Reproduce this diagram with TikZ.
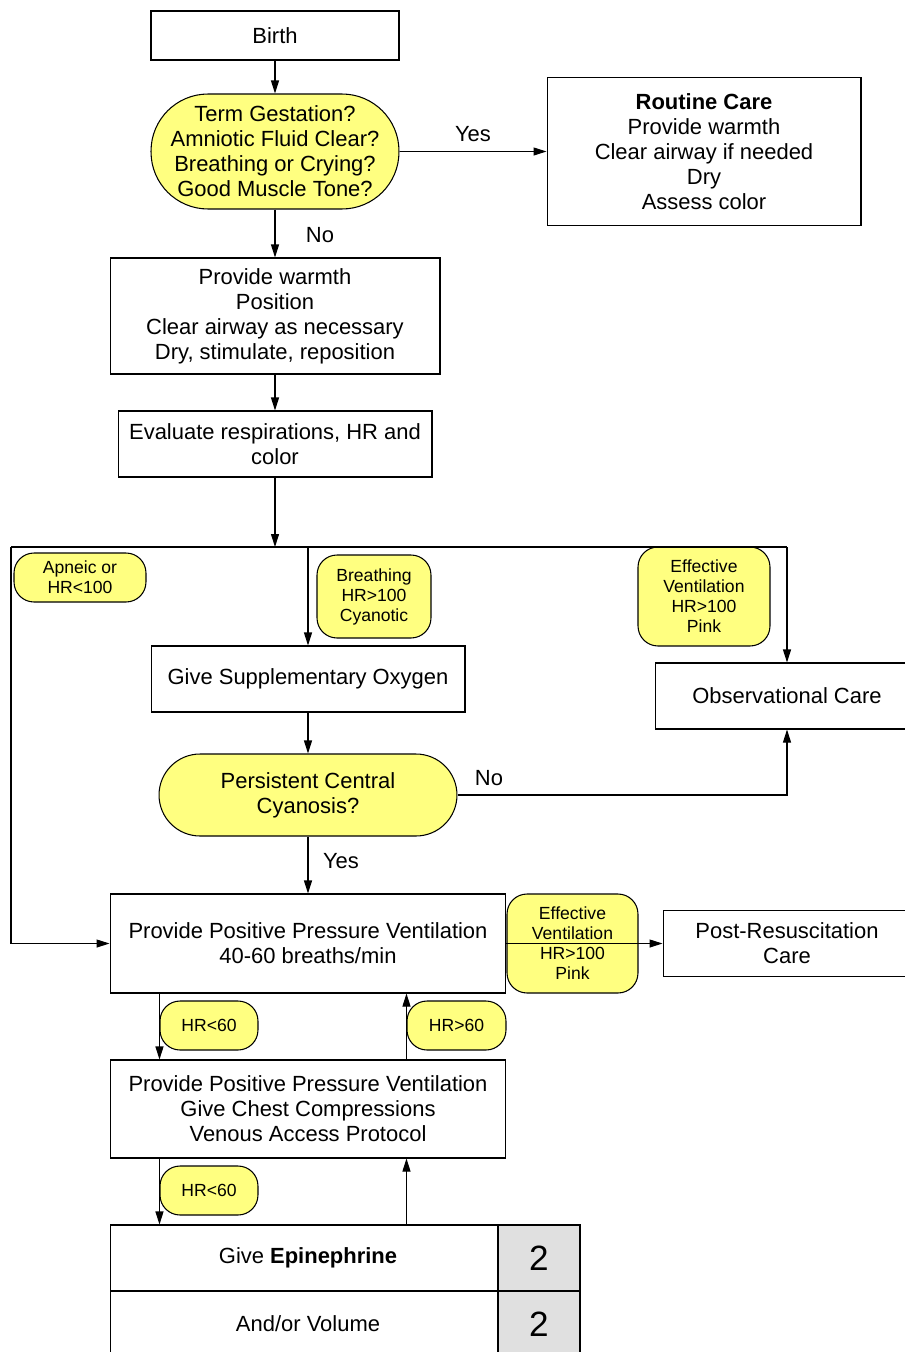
\documentclass[tikz,border=0pt]{standalone}
\usepackage{fontspec}
\setmainfont{Liberation Sans}
\usetikzlibrary{arrows.meta}
\definecolor{labelyellow}{RGB}{255,255,128}
\definecolor{cellgray}{RGB}{224,224,224}
\tikzset{
  box/.style={
    shape = rectangle,
    draw,
    line width = 0.6pt,
    align = center,
    inner sep = 0pt,
    font = \fontsize{12.5}{14.2}\selectfont
  },
}
\tikzset{
  decision/.style={
    shape = rectangle,
    draw,
    fill = labelyellow,
    line width = 0.6pt,
    align = center,
    inner sep = 0pt,
    font = \fontsize{12.5}{14.2}\selectfont
  },
}
\tikzset{
  cond/.style={
    shape = rectangle,
    rounded corners = 0.4cm,
    draw,
    fill = labelyellow,
    line width = 0.6pt,
    align = center,
    inner sep = 0pt,
    font = \fontsize{10}{11.4}\selectfont
  },
  answer/.style={
    inner sep = 0pt,
    font = \fontsize{12.5}{14.2}\selectfont
  },
  flow/.style={
    -{Triangle[length=0.26cm,width=0.16cm]},
    line width = 0.6pt
  }
}

\begin{document}
\begin{tikzpicture}[x=0.02cm,y=-0.02cm]
        \useasboundingbox (0,0) rectangle (904,1352);

        \node[box, minimum width=4.96cm, minimum height=0.98cm] (birth) at (275,35.5) {Birth};
        \node[decision, rounded corners=1.14cm, minimum width=4.96cm, minimum height=2.3cm] (term) at (275,151.5)
            {Term Gestation?\\Amniotic Fluid Clear?\\Breathing or Crying?\\Good Muscle Tone?};
        \node[box, minimum width=6.28cm, minimum height=2.96cm] (routine) at (704,151.5)
            {\textbf{Routine Care}\\Provide warmth\\Clear airway if needed\\Dry\\Assess color};
        \node[box, minimum width=6.6cm, minimum height=2.32cm] (warmth) at (275,316)
            {Provide warmth\\Position\\Clear airway as necessary\\Dry, stimulate, reposition};
        \node[box, minimum width=6.28cm, minimum height=1.32cm] (evaluate) at (275,444)
            {Evaluate respirations, HR and\\color};

        \node[answer] (yesroutine) at (473,134) {Yes};
        \node[answer] (noterm) at (320,235) {No};

        \coordinate (split) at (275,547);
        \coordinate (splitL) at (11,547);
        \coordinate (splitR) at (787,547);

        \node[box, minimum width=6.28cm, minimum height=1.32cm] (oxygen) at (308,679) {Give Supplementary Oxygen};
        \node[box, minimum width=5.28cm, minimum height=1.32cm] (observ) at (787,696) {Observational Care};
        \node[decision, rounded corners=0.82cm, minimum width=5.96cm, minimum height=1.64cm] (persist) at (308,795)
            {Persistent Central\\Cyanosis?};
        \node[answer] (nopersist) at (489,778) {No};
        \node[answer] (yespersist) at (341,861) {Yes};

        \node[box, minimum width=7.92cm, minimum height=1.98cm] (ppv) at (308,943.5)
            {Provide Positive Pressure Ventilation\\40-60 breaths/min};
        \node[box, minimum width=4.96cm, minimum height=1.32cm] (post) at (787,943.5)
            {Post-Resuscitation\\Care};
        \node[box, minimum width=7.92cm, minimum height=1.96cm] (cpr) at (308,1109)
            {Provide Positive Pressure Ventilation\\Give Chest Compressions\\Venous Access Protocol};

        \node[box, minimum width=7.76cm, minimum height=1.32cm] (epi) at (304,1258) {\hspace{0.16cm}Give \textbf{Epinephrine}};
        \node[box, fill=cellgray, minimum width=1.64cm, minimum height=1.32cm, font=\fontsize{20}{24}\selectfont] (epicount) at (539,1258) {2};
        \node[box, minimum width=7.76cm, minimum height=1.32cm] (volume) at (304,1324) {\hspace{0.16cm}And/or Volume};
        \node[box, fill=cellgray, minimum width=1.64cm, minimum height=1.32cm, font=\fontsize{20}{24}\selectfont] (volcount) at (539,1324) {2};

        \node[cond, minimum width=2.64cm, minimum height=0.98cm] (apneic) at (80,577.5) {Apneic or\\HR<100};
        \node[cond, minimum width=2.28cm, minimum height=1.66cm] (breathing) at (374,596.5) {Breathing\\HR>100\\Cyanotic};
        \node[cond, minimum width=2.64cm, minimum height=1.98cm] (effective) at (704,596.5) {Effective\\Ventilation\\HR>100\\Pink};
        \node[cond, minimum width=2.62cm, minimum height=1.98cm] (effppv) at (572.5,943.5) {Effective\\Ventilation\\HR>100\\Pink};
        \node[cond, minimum width=1.96cm, minimum height=0.98cm] (hrlow) at (209,1025.5) {HR<60};
        \node[cond, minimum width=1.98cm, minimum height=0.98cm] (hrhigh) at (456.5,1025.5) {HR>60};
        \node[cond, minimum width=1.96cm, minimum height=0.98cm] (hrlowcpr) at (209,1190.5) {HR<60};

        \draw[flow] (birth) -- (term);
        \draw[flow] (term) -- (routine);
        \draw[flow] (term) -- (warmth);
        \draw[flow] (warmth) -- (evaluate);
        \draw[flow] (evaluate) -- (split);
        \draw[line width=0.6pt] (splitL) -- (splitR);
        \draw[flow] (splitL) |- (ppv);
        \draw[flow] (oxygen.north |- splitR) -- (oxygen);
        \draw[flow] (splitR) -- (observ);
        \draw[flow] (oxygen) -- (persist);
        \draw[flow] (persist) -| (observ);
        \draw[flow] (persist) -- (ppv);
        \draw[flow] (ppv) -- (post);
        \draw[flow] (ppv.south -| hrlow.west) -- (cpr.north -| hrlow.west);
        \draw[flow] (cpr.north -| hrhigh.west) -- (ppv.south -| hrhigh.west);
        \draw[flow] (cpr.south -| hrlowcpr.west) -- (epi.north -| hrlowcpr.west);
        \draw[flow] (epi.north -| hrhigh.west) -- (cpr.south -| hrhigh.west);
\end{tikzpicture}
\end{document}
